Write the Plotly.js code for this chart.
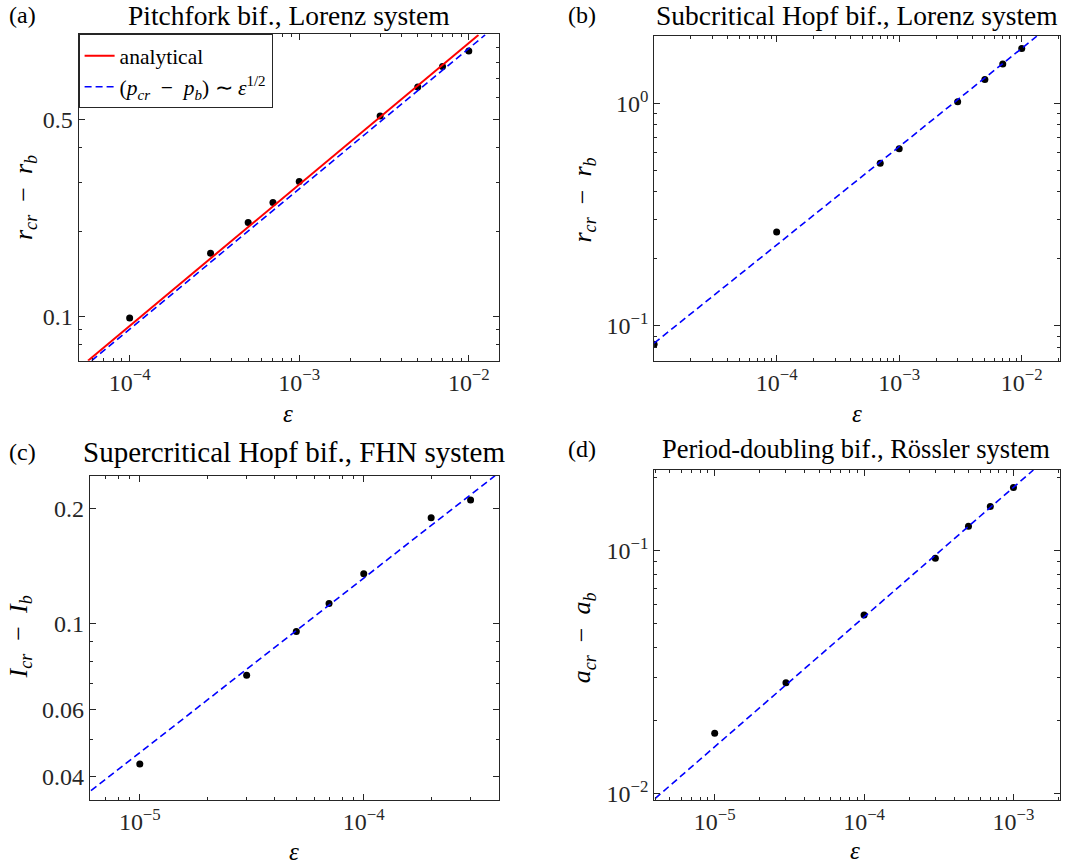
<!DOCTYPE html>
<html>
<head>
<meta charset="utf-8">
<script src="https://cdn.plot.ly/plotly-3.0.1.min.js"></script>
<style>html,body{margin:0;padding:0;background:#fff;}#plot{width:1079px;height:867px;}</style>
</head>
<body>
<div id="plot"></div>
<script>
// ---------- data ----------
// (a) Pitchfork bifurcation, Lorenz system
const epsA = [1e-4, 3e-4, 5e-4, 7e-4, 1e-3, 3e-3, 5e-3, 7e-3, 1e-2];
const valA = [0.099, 0.168, 0.216, 0.254, 0.302, 0.515, 0.653, 0.773, 0.877];
const analyticAx = [5.68e-5, 1.14e-2];
const analyticAy = [0.0698, 1.0];
const fitAx = [5.97e-5, 1.248e-2];
const fitAy = [0.0698, 1.0];

// (b) Subcritical Hopf bifurcation, Lorenz system
const epsB = [1e-5, 1e-4, 7e-4, 1e-3, 3e-3, 5e-3, 7e-3, 1e-2];
const valB = [0.0827, 0.264, 0.538, 0.624, 1.016, 1.28, 1.50, 1.76];
const fitBx = [1e-5, 1.327e-2];
const fitBy = [0.0836, 2.0];

// (c) Supercritical Hopf bifurcation, FHN system
const epsC = [1e-5, 3e-5, 5e-5, 7e-5, 1e-4, 2e-4, 3e-4];
const valC = [0.0432, 0.0735, 0.0955, 0.113, 0.135, 0.189, 0.210];
const fitCx = [6.05e-6, 3.86e-4];
const fitCy = [0.0368, 0.243];

// (d) Period-doubling bifurcation, Rössler system
const epsD = [1e-5, 3e-5, 1e-4, 3e-4, 5e-4, 7e-4, 1e-3];
const valD = [0.0177, 0.0286, 0.0543, 0.0930, 0.126, 0.152, 0.182];
const fitDx = [3.99e-6, 1.36e-3];
const fitDy = [0.00953, 0.215];

// tick labels
const xTicksAB = [1e-4, 1e-3, 1e-2];
const xTickTextAB = ['10<sup>\u22124</sup>', '10<sup>\u22123</sup>', '10<sup>\u22122</sup>'];
const xTicksC = [1e-5, 1e-4];
const xTickTextC = ['10<sup>\u22125</sup>', '10<sup>\u22124</sup>'];
const xTicksD = [1e-5, 1e-4, 1e-3];
const xTickTextD = ['10<sup>\u22125</sup>', '10<sup>\u22124</sup>', '10<sup>\u22123</sup>'];
const yTicksA = [0.1, 0.5];
const yTickTextA = ['0.1', '0.5'];
const yTicksB = [0.1, 1];
const yTickTextB = ['10<sup>\u22121</sup>', '10<sup>0</sup>'];
const yTicksC = [0.04, 0.06, 0.1, 0.2];
const yTickTextC = ['0.04', '0.06', '0.1', '0.2'];
const yTicksD = [0.01, 0.1];
const yTickTextD = ['10<sup>\u22122</sup>', '10<sup>\u22121</sup>'];

// ---------- layout helpers ----------
const W = 1079, H = 867;
const FONT = "'Liberation Serif', 'Times New Roman', serif";
const AX = '#262626';

function minorVals(lo, hi, exclude) {
  const out = [];
  for (let e = -7; e <= 1; e++) {
    for (let m = 1; m <= 9; m++) {
      const v = +(m * Math.pow(10, e)).toPrecision(6);
      if (v >= lo && v <= hi && !exclude.some(t => Math.abs(t - v) / v < 1e-6)) out.push(v);
    }
  }
  return out;
}

function axis(pxLo, pxHi, total, flip, range, tickvals, ticktext, anchor) {
  const d = flip ? [1 - pxHi / total, 1 - pxLo / total] : [pxLo / total, pxHi / total];
  return {
    type: 'log', domain: d, anchor: anchor,
    range: [Math.log10(range[0]), Math.log10(range[1])],
    tickmode: 'array', tickvals: tickvals, ticktext: ticktext,
    ticks: 'inside', ticklen: 6, tickwidth: 1, tickcolor: AX,
    showline: true, linecolor: AX, linewidth: 1, mirror: 'allticks',
    showgrid: false, zeroline: false, automargin: false,
    tickfont: {family: FONT, size: 24, color: AX},
    minor: {tickmode: 'array', tickvals: minorVals(range[0], range[1], tickvals),
            ticks: 'inside', ticklen: 3, tickwidth: 1, tickcolor: AX, showgrid: false}
  };
}

function ann(text, xpx, ypx, size, angle) {
  return {text: text, x: xpx / W, y: 1 - ypx / H, xref: 'paper', yref: 'paper',
          xanchor: 'center', yanchor: 'middle', showarrow: false, textangle: angle || 0,
          borderpad: 0, font: {family: FONT, size: size, color: '#000'}};
}

const dots = (x, y, xa, ya) => ({x: x, y: y, xaxis: xa, yaxis: ya, type: 'scatter', mode: 'markers',
  marker: {color: '#000', size: 7}, showlegend: false, hoverinfo: 'skip'});
const fit = (x, y, xa, ya, show) => ({x: x, y: y, xaxis: xa, yaxis: ya, type: 'scatter', mode: 'lines',
  line: {color: '#0000ff', width: 1.6, dash: '7px,4px'}, showlegend: !!show,
  name: '(<i>p</i><sub><i>cr</i></sub>\u2002\u2212\u2002<i>p</i><sub><i>b</i></sub>) \u223C <i>\u03B5</i><sup>1/2</sup>'});

const data = [
  dots(epsA, valA, 'x', 'y'),
  {x: analyticAx, y: analyticAy, xaxis: 'x', yaxis: 'y', type: 'scatter', mode: 'lines',
   line: {color: '#ff0000', width: 2}, name: 'analytical'},
  fit(fitAx, fitAy, 'x', 'y', true),
  dots(epsB, valB, 'x2', 'y2'),
  fit(fitBx, fitBy, 'x2', 'y2', false),
  dots(epsC, valC, 'x3', 'y3'),
  fit(fitCx, fitCy, 'x3', 'y3', false),
  dots(epsD, valD, 'x4', 'y4'),
  fit(fitDx, fitDy, 'x4', 'y4', false)
];

const ylab = (v) => '<i>' + v + '</i><sub><i>cr</i></sub>\u2002\u2212\u2002<i>' + v + '</i><sub><i>b</i></sub>';

const layout = {
  width: W, height: H, margin: {l: 0, r: 0, t: 0, b: 0},
  paper_bgcolor: '#fff', plot_bgcolor: '#fff',
  font: {family: FONT, color: '#000'},
  xaxis:  axis(78.6, 499.3, W, false, [5.0e-5, 1.513e-2], xTicksAB, xTickTextAB, 'y'),
  yaxis:  axis(34.3, 360.7, H, true, [0.0698, 1.005], yTicksA, yTickTextA, 'x'),
  xaxis2: axis(654.1, 1059.7, W, false, [1.0e-5, 2.04e-2], xTicksAB, xTickTextAB, 'y2'),
  yaxis2: axis(36, 360.7, H, true, [0.0698, 2.005], yTicksB, yTickTextB, 'x2'),
  xaxis3: axis(89.8, 498.8, W, false, [5.98e-6, 4.01e-4], xTicksC, xTickTextC, 'y3'),
  yaxis3: axis(475.7, 800, H, true, [0.0348, 0.243], yTicksC, yTickTextC, 'x3'),
  xaxis4: axis(654.1, 1059.7, W, false, [3.93e-6, 2.04e-3], xTicksD, xTickTextD, 'y4'),
  yaxis4: axis(470, 800, H, true, [0.0094, 0.215], yTicksD, yTickTextD, 'x4'),
  legend: {x: 78.6 / W, y: 1 - 34.3 / H, xanchor: 'left', yanchor: 'top',
           bgcolor: '#fff', bordercolor: AX, borderwidth: 1,
           font: {family: FONT, size: 21.5, color: '#000'}, tracegroupgap: 0, itemwidth: 30},
  annotations: [
    ann('(a)', 22.3, 15, 24), ann('Pitchfork bif., Lorenz system', 288.6, 15.8, 27.5),
    ann('(b)', 581.6, 15, 24), ann('Subcritical Hopf bif., Lorenz system', 856.6, 15.8, 27.5),
    ann('(c)', 22.3, 452, 24), ann('Supercritical Hopf bif., FHN system', 294.3, 452, 29),
    ann('(d)', 581.6, 449, 24), ann('Period-doubling bif., R\u00F6ssler system', 856.4, 449, 26.5),
    ann(ylab('r'), 25, 198, 26, -90), ann(ylab('r'), 583.5, 200, 26, -90),
    ann(ylab('I'), 19, 637.5, 26, -90), ann(ylab('a'), 582.8, 637.5, 26, -90),
    ann('<i>\u03B5</i>', 287.8, 413, 25), ann('<i>\u03B5</i>', 856.9, 413, 25),
    ann('<i>\u03B5</i>', 294, 851, 25), ann('<i>\u03B5</i>', 855.2, 850, 25)
  ],
  showlegend: true
};

Plotly.newPlot('plot', data, layout, {staticPlot: true, displayModeBar: false});
</script>
</body>
</html>
